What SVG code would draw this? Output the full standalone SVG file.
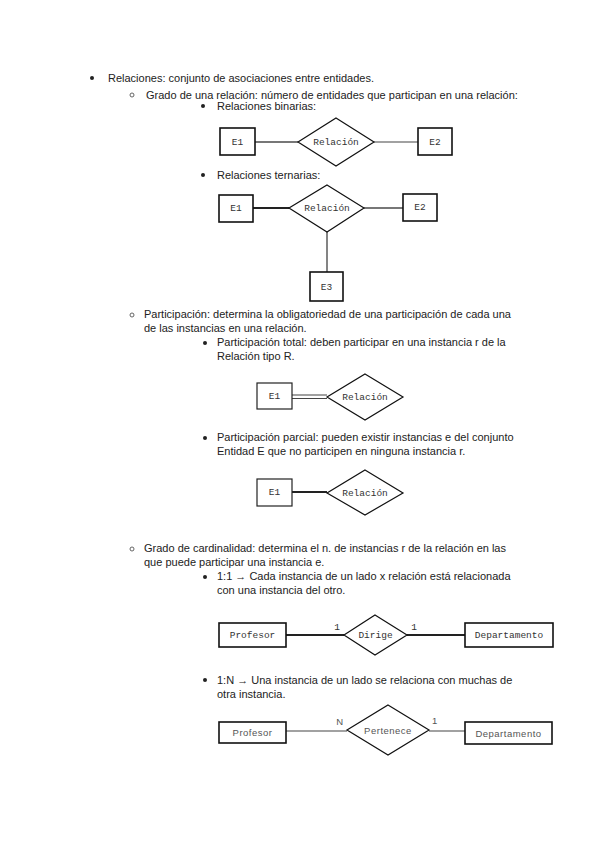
<svg xmlns="http://www.w3.org/2000/svg" width="600" height="848" viewBox="0 0 600 848">
<style>
.t{font-family:"Liberation Sans",Arial,sans-serif;font-size:11px;fill:#222}
.m{font-family:"Liberation Mono","Courier New",monospace;font-size:9.5px;fill:#333;text-anchor:middle}
.s{font-family:"Liberation Sans",Arial,sans-serif;font-size:9.5px;letter-spacing:0.5px;fill:#555;text-anchor:middle}
.box{fill:#fff;stroke:#111;stroke-width:1.6}
.dia{fill:#fff;stroke:#111;stroke-width:1.2}
.bx2{fill:#fff;stroke:#222;stroke-width:1.2}
.thin{stroke:#444;stroke-width:1.2;fill:none}
.thick{stroke:#222;stroke-width:2;fill:none}
.gray{stroke:#777;stroke-width:1.8;fill:none}
.dot{fill:#222}
.ring{fill:none;stroke:#555;stroke-width:0.9}
</style>
<rect width="600" height="848" fill="#fff"/>

<g id="texts">
<circle class="dot" cx="92" cy="78" r="2"/>
<text class="t" x="108" y="82">Relaciones: conjunto de asociaciones entre entidades.</text>
<circle class="ring" cx="132" cy="95" r="2"/>
<text class="t" x="146" y="99">Grado de una relación: número de entidades que participan en una relación:</text>
<circle class="dot" cx="203" cy="106" r="2"/>
<text class="t" x="217" y="110">Relaciones binarias:</text>
<circle class="dot" cx="203" cy="175" r="2"/>
<text class="t" x="217" y="179">Relaciones ternarias:</text>

<circle class="ring" cx="132" cy="315" r="2"/>
<text class="t" x="144" y="318">Participación: determina la obligatoriedad de una participación de cada una</text>
<text class="t" x="144" y="332">de las instancias en una relación.</text>
<circle class="dot" cx="205" cy="343" r="2"/>
<text class="t" x="217" y="346">Participación total: deben participar en una instancia r de la</text>
<text class="t" x="217" y="360">Relación tipo R.</text>
<circle class="dot" cx="205" cy="438" r="2"/>
<text class="t" x="217" y="441">Participación parcial: pueden existir instancias e del conjunto</text>
<text class="t" x="217" y="455">Entidad E  que no participen en ninguna instancia r.</text>

<circle class="ring" cx="132" cy="549" r="2"/>
<text class="t" x="144" y="552">Grado de cardinalidad: determina el n. de instancias r de la relación en las</text>
<text class="t" x="144" y="566">que puede participar una instancia e.</text>
<circle class="dot" cx="205" cy="577" r="2"/>
<text class="t" x="217" y="580">1:1 → Cada instancia de un lado x relación está relacionada</text>
<text class="t" x="217" y="594">con una instancia del otro.</text>
<circle class="dot" cx="205" cy="680" r="2"/>
<text class="t" x="217" y="684">1:N → Una instancia de un lado se relaciona con muchas de</text>
<text class="t" x="217" y="698">otra instancia.</text>
</g>

<g id="connectors">
<line class="gray" x1="255" y1="142" x2="298" y2="142"/>
<line class="thin" x1="374" y1="142" x2="418" y2="142"/>
<line class="thick" x1="253" y1="208" x2="289" y2="208"/>
<line class="gray" x1="364" y1="208" x2="403" y2="208"/>
<line class="gray" x1="327" y1="232" x2="327" y2="272"/>
<line class="thin" x1="292" y1="395" x2="327" y2="395"/>
<line class="thin" x1="292" y1="398.5" x2="327" y2="398.5"/>
<line class="thick" x1="292" y1="492" x2="327" y2="492"/>
<line class="thick" x1="286" y1="635" x2="344" y2="635"/>
<line class="thick" x1="407" y1="635" x2="465" y2="635"/>
<line class="thin" x1="286" y1="731" x2="347" y2="731"/>
<line class="thin" x1="429" y1="731" x2="465" y2="731"/>
<text class="m" x="337" y="630">1</text>
<text class="m" x="414" y="630">1</text>
<text class="s" x="340" y="725">N</text>
<text class="s" x="435" y="724">1</text>
</g>

<g id="bin-e1"><rect class="box" x="220" y="128" width="35" height="27"/><text class="m" x="237.5" y="145">E1</text></g>
<g id="bin-rel"><polygon class="dia" points="336,118 374,142 336,166 298,142"/><text class="m" x="336" y="145">Relación</text></g>
<g id="bin-e2"><rect class="box" x="418" y="128" width="34" height="27"/><text class="m" x="435" y="145">E2</text></g>

<g id="ter-e1"><rect class="box" x="219" y="195" width="34" height="27"/><text class="m" x="236" y="211">E1</text></g>
<g id="ter-rel"><polygon class="dia" points="327,185 364,208 327,232 289,208"/><text class="m" x="327" y="211">Relación</text></g>
<g id="ter-e2"><rect class="box" x="403" y="194" width="34" height="27"/><text class="m" x="420" y="210">E2</text></g>
<g id="ter-e3"><rect class="box" x="310" y="272" width="33" height="29"/><text class="m" x="326.5" y="290">E3</text></g>

<g id="tot-e1"><rect class="bx2" x="257" y="383" width="35" height="26"/><text class="m" x="274.5" y="399">E1</text></g>
<g id="tot-rel"><polygon class="dia" points="365,374 403,397 365,420 327,397"/><text class="m" x="365" y="400">Relación</text></g>

<g id="par-e1"><rect class="bx2" x="257" y="479" width="35" height="27"/><text class="m" x="274.5" y="495">E1</text></g>
<g id="par-rel"><polygon class="dia" points="365,470 403,493 365,515 327,493"/><text class="m" x="365" y="496">Relación</text></g>

<g id="c11-prof"><rect class="box" x="219" y="623" width="67" height="24"/><text class="m" x="252.5" y="638">Profesor</text></g>
<g id="c11-rel"><polygon class="dia" points="375,615 407,635 375,655 344,635"/><text class="m" x="375.5" y="638">Dirige</text></g>
<g id="c11-dep"><rect class="box" x="465" y="623" width="88" height="24"/><text class="m" x="509" y="638">Departamento</text></g>

<g id="c1n-prof"><rect class="box" x="219" y="722" width="67" height="21"/><text class="s" x="252.5" y="736">Profesor</text></g>
<g id="c1n-rel"><polygon class="dia" points="388,705 429,730 388,755 347,730"/><text class="s" x="388" y="734">Pertenece</text></g>
<g id="c1n-dep"><rect class="box" x="465" y="722" width="87" height="22"/><text class="s" x="508.5" y="737">Departamento</text></g>
</svg>
